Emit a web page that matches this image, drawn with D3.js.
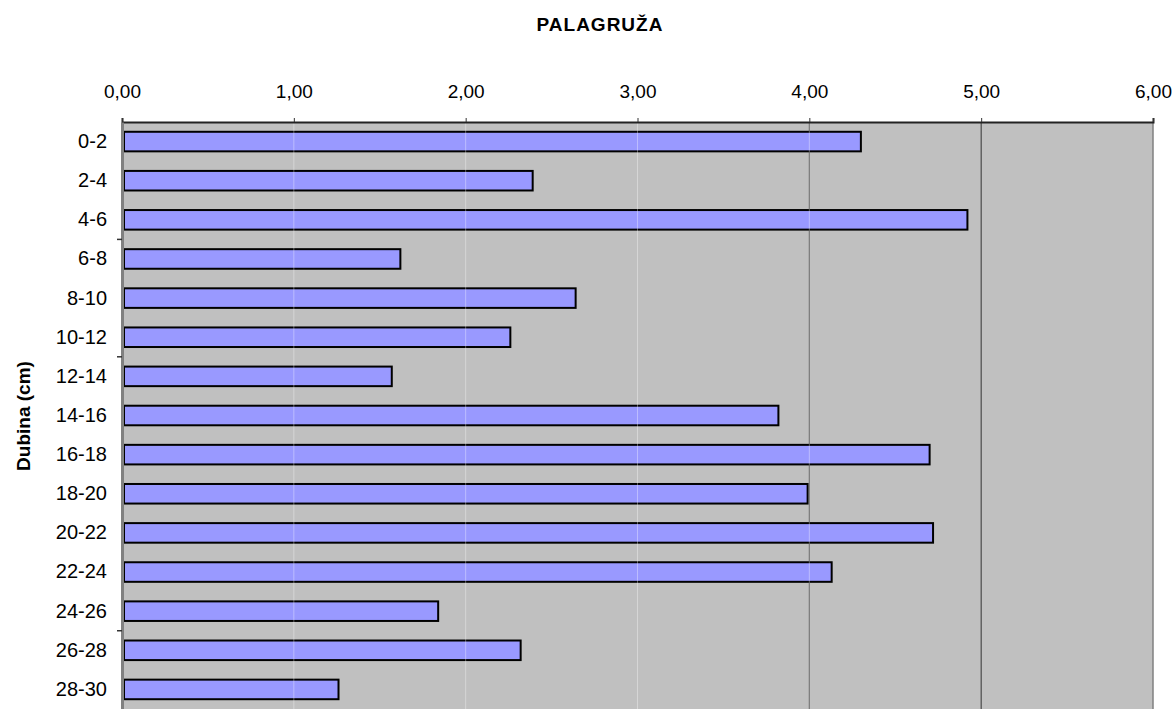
<!DOCTYPE html>
<meta charset="utf-8">
<script src="https://d3js.org/d3.v7.min.js"></script>
<style>
  body { margin: 0; background: #fff; }
  text { font-family: "Liberation Sans", Arial, sans-serif; fill: #000; }
</style>
<div id="chart"></div>
<script>
  // depth classes (cm) and measured values
  const depths = ["0-2", "2-4", "4-6", "6-8", "8-10", "10-12", "12-14", "14-16",
    "16-18", "18-20", "20-22", "22-24", "24-26", "26-28", "28-30"];
  const values = [4.30, 2.39, 4.92, 1.62, 2.64, 2.26, 1.57, 3.82,
    4.70, 3.99, 4.72, 4.13, 1.84, 2.32, 1.26];
  const xTicks = [0, 1, 2, 3, 4, 5, 6];
  const darkGrid = [4, 5];
  const lightGrid = [1, 2, 3, 4];
  const sideTicks = ["4-6", "10-12", "24-26"];

  const W = 1176, H = 709;
  const plot = { left: 122, right: 1153, top: 122, bottom: 709 };

  const svg = d3.select("#chart").append("svg")
    .attr("width", W).attr("height", H);

  const x = d3.scaleLinear().domain([0, 6]).range([plot.left, plot.right]);
  const y = d3.scaleBand().domain(depths).range([plot.top, plot.bottom])
    .paddingInner(0.5).paddingOuter(0.25);

  // plot background
  svg.append("rect")
    .attr("x", plot.left).attr("y", plot.top)
    .attr("width", plot.right - plot.left).attr("height", plot.bottom - plot.top)
    .attr("fill", "#c0c0c0");

  // dark gridlines
  svg.append("g").selectAll("line").data(darkGrid).join("line")
    .attr("x1", d => x(d)).attr("x2", d => x(d))
    .attr("y1", plot.top).attr("y2", plot.bottom)
    .attr("stroke", "#333").attr("stroke-width", 1);

  // right border
  svg.append("line")
    .attr("x1", plot.right).attr("x2", plot.right)
    .attr("y1", plot.top).attr("y2", plot.bottom)
    .attr("stroke", "#808080").attr("stroke-width", 1.5);

  // bars
  svg.append("g").selectAll("rect").data(values).join("rect")
    .attr("x", x(0) + 2)
    .attr("y", (d, i) => y(depths[i]))
    .attr("width", d => x(d) - x(0) - 2)
    .attr("height", y.bandwidth())
    .attr("fill", "#9999ff")
    .attr("stroke", "#000")
    .attr("stroke-width", 2);

  // faint light gridlines over the bars
  svg.append("g").selectAll("line").data(lightGrid).join("line")
    .attr("x1", d => x(d)).attr("x2", d => x(d))
    .attr("y1", plot.top).attr("y2", plot.bottom)
    .attr("stroke", "#fff").attr("stroke-opacity", 0.35).attr("stroke-width", 1);

  // top axis
  const axisTop = svg.append("g")
    .attr("transform", `translate(0,${plot.top})`)
    .call(d3.axisTop(x).tickValues(xTicks).tickSize(4).tickPadding(20)
      .tickFormat(d => d3.format(".2f")(d).replace(".", ",")));
  axisTop.select(".domain").attr("stroke", "#222").attr("stroke-width", 2);
  axisTop.selectAll(".tick line").attr("stroke", "#333");
  axisTop.selectAll("text")
    .style("font-family", "'Liberation Sans', Arial, sans-serif")
    .style("font-size", "19px").attr("fill", "#000");

  // left axis
  const axisLeft = svg.append("g")
    .attr("transform", `translate(${plot.left},0)`)
    .call(d3.axisLeft(y).tickSize(0).tickPadding(15));
  axisLeft.select(".domain").attr("stroke", "#808080").attr("stroke-width", 3);
  axisLeft.selectAll("text")
    .style("font-family", "'Liberation Sans', Arial, sans-serif")
    .style("font-size", "20px").attr("fill", "#000");

  // small marks on the left axis
  const step = y.step();
  svg.append("g").selectAll("line").data(sideTicks).join("line")
    .attr("x1", plot.left - 5).attr("x2", plot.left)
    .attr("y1", d => y(d) + y.bandwidth() + (step - y.bandwidth()) / 2)
    .attr("y2", d => y(d) + y.bandwidth() + (step - y.bandwidth()) / 2)
    .attr("stroke", "#333").attr("stroke-width", 1.5);

  // title
  svg.append("text")
    .attr("x", 600).attr("y", 31)
    .attr("text-anchor", "middle")
    .style("font-size", "19px").style("font-weight", "bold")
    .style("letter-spacing", "1px")
    .text("PALAGRUŽA");

  // y axis title
  svg.append("text")
    .attr("transform", "translate(30,416) rotate(-90)")
    .attr("text-anchor", "middle")
    .style("font-size", "19px").style("font-weight", "bold")
    .text("Dubina (cm)");
</script>
